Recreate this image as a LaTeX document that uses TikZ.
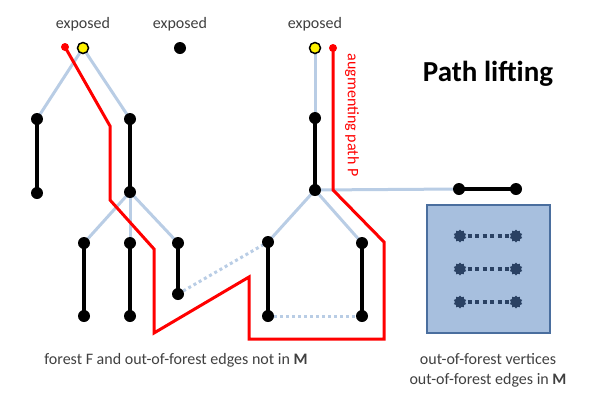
\documentclass[tikz,border=0pt]{standalone}
\usepackage{fontspec}
\setmainfont{Carlito}
\usetikzlibrary{shapes.geometric,backgrounds}
\pgfdeclarelayer{boxlayer}
\pgfsetlayers{boxlayer,background,main}
\definecolor{lblue}{HTML}{B9CDE5}
\definecolor{boxfill}{HTML}{A7BFDE}
\definecolor{boxline}{HTML}{4A6E9E}
\definecolor{navy}{HTML}{2A4163}
\definecolor{txt}{HTML}{404040}
\tikzset{
 v/.style={circle,fill=black,inner sep=0pt,minimum size=12pt},
 ex/.style={circle,fill=yellow,draw=black,line width=1.5pt,inner sep=0pt,minimum size=11pt},
 rd/.style={circle,fill=red,inner sep=0pt,minimum size=8pt},
 nv/.style={star,star points=10,star point ratio=1.3,fill=navy,inner sep=0pt,minimum size=13pt},
 matched/.style={line width=4pt,black},
 tree/.style={line width=3pt,lblue},
 nonm/.style={line width=3pt,lblue,dash pattern=on 3pt off 3pt},
 inm/.style={line width=4pt,navy,dash pattern=on 4pt off 3.5pt},
 redpath/.style={line width=3pt,red,line join=miter},
 lbl/.style={text=txt,font=\fontsize{16}{19}\selectfont},
}
\begin{document}
\begin{tikzpicture}[x=1pt,y=-1pt]
\useasboundingbox (0,0) rectangle (600,408);
% box
\begin{pgfonlayer}{boxlayer}
\node[draw=boxline,fill=boxfill,line width=1.5pt,minimum width=123pt,minimum height=128pt,inner sep=0pt] (box) at (488.5,269) {};
\end{pgfonlayer}
% labels
\node[lbl,anchor=base] (l1) at (83,28) {exposed};
\node[lbl,anchor=base] (l2) at (180,28) {exposed};
\node[lbl,anchor=base] (l3) at (315,28) {exposed};
\node[font=\fontsize{29}{34}\selectfont\bfseries] (title) at (488,74) {Path lifting};
\node[text=red,font=\fontsize{16}{19}\selectfont,rotate=-90] (aug) at (352,115) {augmenting path P};
\node[lbl,anchor=base] (cap1) at (176,364) {forest F and out-of-forest edges not in \textbf{M}};
\node[lbl,anchor=base] (cap2) at (488,364) {out-of-forest vertices};
\node[lbl,anchor=base] (cap3) at (488,384) {out-of-forest edges in \textbf{M}};
% vertices
\node[ex] (y1) at (83,48) {};
\node[rd] (r1) at (65,47) {};
\node[v] (x0) at (180,48) {};
\node[ex] (y2) at (315,48) {};
\node[rd] (r2) at (333,48) {};
\node[v] (a1) at (37,119) {};
\node[v] (a2) at (37,193) {};
\node[v] (b1) at (130,119) {};
\node[v] (b2) at (130,192) {};
\node[v] (c1) at (84,243) {};
\node[v] (c1b) at (84,316) {};
\node[v] (c2) at (130,243) {};
\node[v] (c2b) at (130,316) {};
\node[v] (c3) at (178,243) {};
\node[v] (c3b) at (178,294) {};
\node[v] (d1) at (315,118) {};
\node[v] (d2) at (315,190) {};
\node[v] (e1) at (268,242) {};
\node[v] (e1b) at (268,316) {};
\node[v] (e2) at (362,243) {};
\node[v] (e2b) at (362,316) {};
\node[v] (f1) at (459,189) {};
\node[v] (f2) at (516,189) {};
\node[nv] (g1) at (460,236) {};
\node[nv] (g2) at (516,236) {};
\node[nv] (h1) at (460,269) {};
\node[nv] (h2) at (516,269) {};
\node[nv] (k1) at (460,302) {};
\node[nv] (k2) at (516,302) {};
% red path bends
\coordinate (p1) at (110,126);
\coordinate (p2) at (110,200);
\coordinate (p3) at (154,249);
\coordinate (p4) at (154,333);
\coordinate (p5) at (249,277);
\coordinate (p6) at (249,339);
\coordinate (p7) at (384,339);
\coordinate (p8) at (384,242);
\coordinate (p9) at (333,190);
\begin{pgfonlayer}{background}
\draw[tree] (y1.center) -- (a1.center);
\draw[tree] (y1.center) -- (b1.center);
\draw[tree] (y2.center) -- (d1.center);
\draw[tree] (b2.center) -- (c1.center);
\draw[tree] (b2.center) -- (c2.center);
\draw[tree] (b2.center) -- (c3.center);
\draw[tree] (d2.center) -- (e1.center);
\draw[tree] (d2.center) -- (e2.center);
\draw[tree] (d2.center) -- (f1.center);
\draw[nonm] (c3b.center) -- (e1.center);
\draw[nonm] (e1b.center) -- (e2b.center);
\draw[matched] (a1.center) -- (a2.center);
\draw[matched] (b1.center) -- (b2.center);
\draw[matched] (c1.center) -- (c1b.center);
\draw[matched] (c2.center) -- (c2b.center);
\draw[matched] (c3.center) -- (c3b.center);
\draw[matched] (d1.center) -- (d2.center);
\draw[matched] (e1.center) -- (e1b.center);
\draw[matched] (e2.center) -- (e2b.center);
\draw[matched] (f1.center) -- (f2.center);
\draw[inm] (g1.center) -- (g2.center);
\draw[inm] (h1.center) -- (h2.center);
\draw[inm] (k1.center) -- (k2.center);
\draw[redpath] (r1.center) -- (p1) -- (p2) -- (p3) -- (p4) -- (p5) -- (p6) -- (p7) -- (p8) -- (p9) -- (r2.center);
\end{pgfonlayer}
\end{tikzpicture}
\end{document}
